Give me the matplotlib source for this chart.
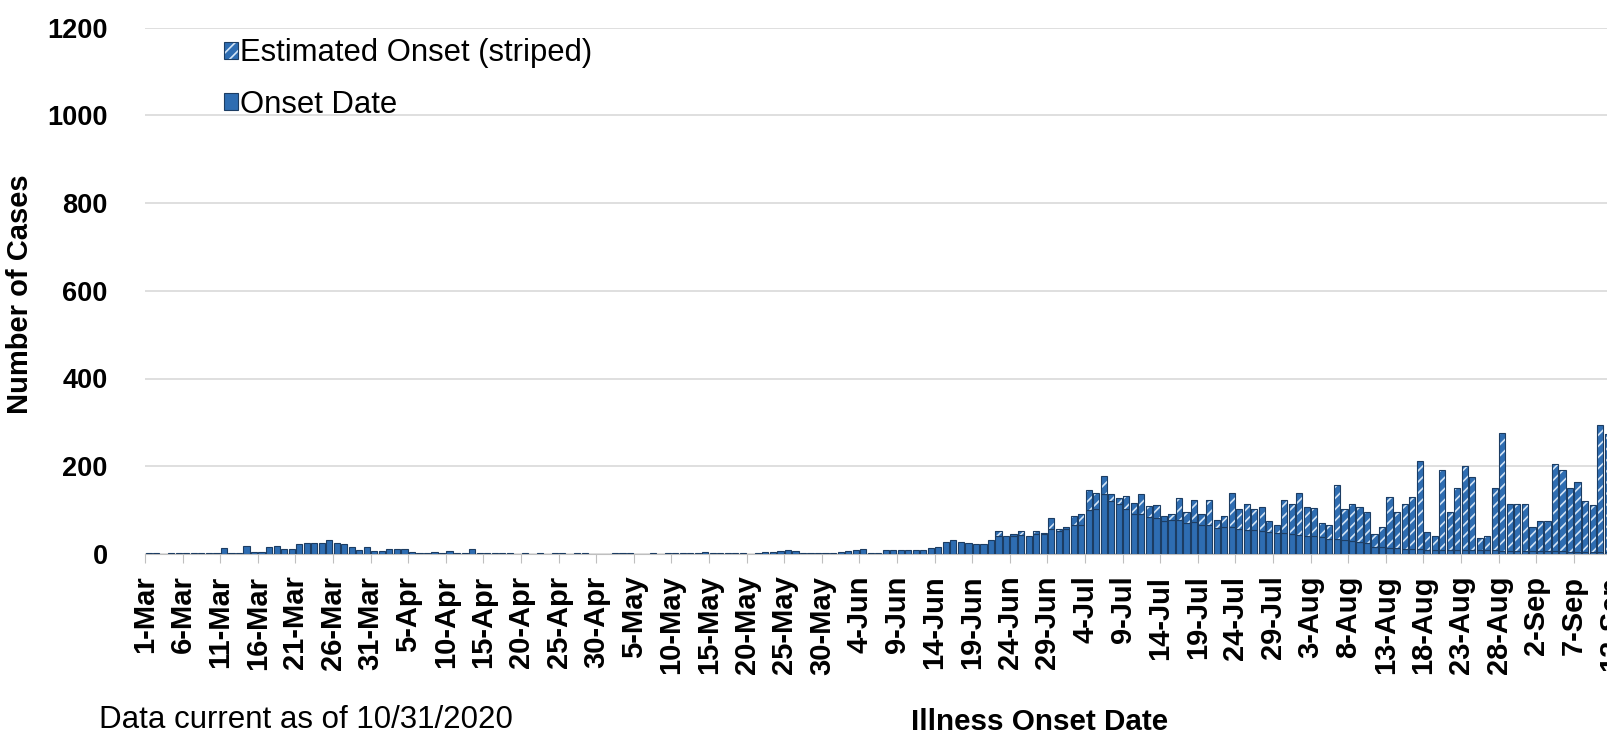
import matplotlib
matplotlib.use('Agg')
import matplotlib.pyplot as plt
import numpy as np
import pandas as pd
from matplotlib.patches import Patch
from matplotlib.legend_handler import HandlerTuple

plt.rcParams['font.family'] = ['Liberation Sans', 'DejaVu Sans']
plt.rcParams['hatch.linewidth'] = 1.2

# daily cases by illness onset, starting 1-Mar-2020 (visible part of the chart)
start = '2020-03-01'
onset_mar = [2, 2, 0, 2, 2, 2, 2, 2, 2, 2, 14, 2, 2, 18, 5, 5, 16, 18, 12, 12,
             22, 24, 24, 25, 33, 25, 22, 15, 8, 16, 6]
onset_apr = [6, 12, 12, 12, 5, 2, 2, 5, 2, 6, 2, 2, 12, 2, 2, 2, 2, 2, 0, 2,
             0, 2, 0, 2, 2, 0, 2, 2, 0, 0]
onset_may = [0, 3, 3, 3, 0, 0, 2, 0, 2, 2, 2, 3, 3, 5, 3, 3, 3, 3, 2, 0,
             3, 5, 5, 7, 8, 7, 2, 2, 2, 2, 3]
onset_jun = [5, 6, 8, 12, 2, 2, 8, 8, 10, 10, 10, 8, 14, 16, 27, 33, 28, 25, 22, 22,
             33, 42, 41, 41, 44, 41, 46, 46, 56, 52]
onset_jul = [58, 65, 66, 100, 102, 137, 120, 114, 102, 91, 91, 84, 81, 76, 77, 77,
             71, 72, 67, 67, 60, 62, 62, 57, 55, 55, 53, 50, 47, 47, 45]
onset_aug = [44, 42, 40, 38, 35, 35, 32, 30, 27, 24, 15, 15, 14, 13, 12, 12, 11,
             10, 10, 10, 9, 9, 9, 8, 8, 8, 8, 7, 7, 7, 7]
onset_sep = [6, 6, 6, 6, 6, 5, 5, 5, 5, 5, 5]

est_mar = [0] * 31
est_apr = [0] * 30
est_may = [0] * 31
est_jun = [0] * 21 + [10, 0, 5, 8, 0, 6, 2, 26, 4]
est_jul = [4, 22, 25, 46, 36, 40, 16, 14, 30, 26, 45, 25, 30, 10, 15, 50, 25, 50,
           25, 55, 18, 24, 78, 45, 60, 47, 55, 25, 18, 75, 68]
est_aug = [96, 65, 65, 33, 30, 122, 70, 85, 80, 72, 31, 47, 116, 82, 103, 118, 200,
           40, 32, 181, 87, 141, 191, 167, 29, 34, 143, 269, 108, 108, 108]
est_sep = [56, 69, 69, 199, 185, 145, 160, 115, 106, 289, 269]

onset = np.array(onset_mar + onset_apr + onset_may + onset_jun + onset_jul + onset_aug + onset_sep)
estimated = np.array(est_mar + est_apr + est_may + est_jun + est_jul + est_aug + est_sep)

days = np.arange(len(onset))
x = days + 0.5
n_axis_days = 238.5  # full axis runs past the right edge of the picture

blue = '#2E6DB2'
edge = '#1C3D63'
hatch_c = '#D4E5F6'
w = 0.82

W, H = 1607, 740
fig = plt.figure(figsize=(W / 100, H / 100), dpi=100)
left_px, top_px, base_px, px_day = 145, 27.5, 554, 7.52
ax = fig.add_axes([left_px / W, (H - base_px) / H,
                   n_axis_days * px_day / W, (base_px - top_px) / H])

m1 = onset > 0
ax.bar(x[m1], onset[m1], width=w, color=blue, edgecolor=edge, linewidth=0.8, zorder=3)
m2 = estimated > 0
ax.bar(x[m2], estimated[m2], bottom=onset[m2], width=w, color=blue,
       edgecolor=hatch_c, linewidth=0, hatch='///', zorder=3)
ax.bar(x[m2], estimated[m2], bottom=onset[m2], width=w, facecolor='none',
       edgecolor=edge, linewidth=0.8, zorder=4)

ax.set_xlim(0, n_axis_days)
ax.set_ylim(0, 1200)
ax.set_yticks(range(0, 1201, 200))

tick_days = np.arange(0, int(n_axis_days) + 1, 5)
tick_dates = pd.date_range(start, periods=len(tick_days), freq='5D')
tick_labels = [f"{d.day}-{d.strftime('%b')}" for d in tick_dates]
ax.set_xticks(tick_days)
ax.set_xticklabels(tick_labels, rotation=90, fontweight='bold')
for lbl in ax.get_yticklabels():
    lbl.set_fontweight('bold')

ax.grid(axis='y', color='#D9D9D9', linewidth=1.2, zorder=0)
ax.set_axisbelow(True)
for s in ['top', 'right', 'left']:
    ax.spines[s].set_visible(False)
ax.spines['bottom'].set_color('#BFBFBF')
ax.tick_params(axis='y', length=0, pad=27, labelsize=19.5)
ax.tick_params(axis='x', length=6.5, color='#BFBFBF', pad=9, labelsize=21)

h_est = (Patch(facecolor=blue, edgecolor=hatch_c, hatch='///', linewidth=0),
         Patch(facecolor='none', edgecolor=edge, linewidth=0.8))
h_on = Patch(facecolor=blue, edgecolor=edge, linewidth=0.8)
fig.legend([h_est, h_on], ['Estimated Onset (striped)', 'Onset Date'],
           handler_map={tuple: HandlerTuple(ndivide=1)},
           loc='upper left', bbox_to_anchor=(224 / W, 1 - 38.5 / H),
           frameon=False, fontsize=22.3, handlelength=0.45, handleheight=0.45,
           handletextpad=0.06, labelspacing=0.68, borderpad=0, borderaxespad=0)

fig.text(99 / W, 1 - 720 / H, 'Data current as of 10/31/2020', fontsize=22.5, va='center')
fig.text(1040 / W, 1 - 722 / H, 'Illness Onset Date', fontsize=21.3,
         fontweight='bold', ha='center', va='center')
fig.text(20.5 / W, 1 - 294 / H, 'Number of Cases', fontsize=21, fontweight='bold',
         rotation=90, ha='center', va='center')

fig.savefig('out.png', dpi=100)
